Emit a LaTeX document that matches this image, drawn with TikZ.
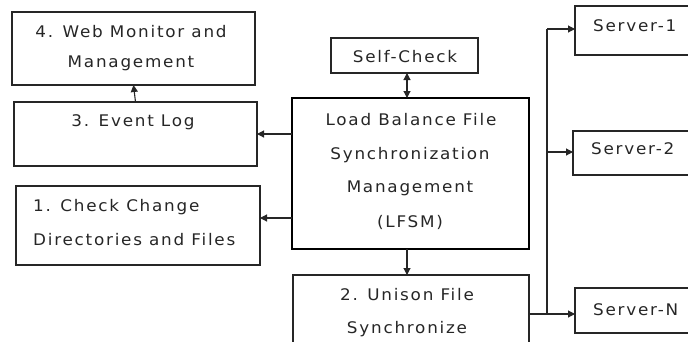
\documentclass[tikz,border=0pt]{standalone}
\usepackage{fontspec}
\setmainfont{DejaVu Sans}[FakeStretch=1.05,LetterSpace=11]
\usetikzlibrary{arrows.meta}
\begin{document}
\begin{tikzpicture}[x=1pt,y=-1pt,
  box/.style={draw=black!85,line width=1.1pt},
  mainbox/.style={draw=black,line width=2.9pt},
  lbl/.style={font=\fontsize{16}{16}\selectfont,text=black!85,inner sep=0pt},
  tip/.tip={Triangle[length=7pt,width=7pt]},
  conn/.style={draw=black!85,line width=1.1pt,-tip},
  wire/.style={draw=black!85,line width=1.1pt}]
\useasboundingbox (0,0) rectangle (688,341);
\clip (0,0) rectangle (688,341);
% boxes
\draw[box] (12,12) rectangle (255,85);
\coordinate (web) at (133.5,85);
\draw[box] (14,102) rectangle (257,166);
\coordinate (evtop) at (135.5,102);
\coordinate (evright) at (257,134);
\draw[box] (16,186) rectangle (260,265);
\coordinate (chkright) at (260,218);
\draw[mainbox] (292,98) rectangle (529,249);
\coordinate (lfsmtop) at (407,98);
\coordinate (lfsmbot) at (407,249);
\coordinate (lfsmleftA) at (292,134);
\coordinate (lfsmleftB) at (292,218);
\draw[box] (331,38) rectangle (478,73);
\coordinate (selfbot) at (407,73);
\draw[box] (293,275) rectangle (529,360);
\coordinate (unitop) at (407,275);
\coordinate (uniright) at (529,314);
\draw[box] (575,6) rectangle (700,55);
\draw[box] (573,131) rectangle (700,175);
\draw[box] (575,288) rectangle (700,333);
\coordinate (s1) at (575,29);
\coordinate (s2) at (573,152);
\coordinate (sN) at (575,314);
\coordinate (trunkbot) at (547,314);
\coordinate (trunktop) at (547,29);
\coordinate (trunkmid) at (547,152);
% texts
\node[lbl] (t4a) at (131,32) {4. Web Monitor and};
\node[lbl] (t4b) at (131,63) {Management};
\node[lbl] (t3) at (133,122) {3. Event Log};
\node[lbl,anchor=west] (t1a) at (33,207) {1. Check Change};
\node[lbl,anchor=west] (t1b) at (33,240) {Directories and Files};
\node[lbl] (tl1) at (411,120) {Load Balance File};
\node[lbl] (tl2) at (410,155) {Synchronization};
\node[lbl] (tl3) at (410,188) {Management};
\node[lbl] (tl4) at (410,222) {(LFSM)};
\node[lbl] (tsc) at (405,57) {Self-Check};
\node[lbl] (tu1) at (407,295) {2. Unison File};
\node[lbl] (tu2) at (407,329) {Synchronize};
\node[lbl,anchor=west] (ts1) at (593,26) {Server-1};
\node[lbl,anchor=west] (ts2) at (591,149) {Server-2};
\node[lbl,anchor=west] (tsN) at (593,310) {Server-N};
% connectors
\draw[conn] (evtop) -- (web);
\draw[conn] (lfsmleftA) -- (evright);
\draw[conn] (lfsmleftB) -- (chkright);
\draw[conn,tip-tip] (selfbot) -- (lfsmtop);
\draw[conn] (lfsmbot) -- (unitop);
\draw[wire] (uniright) -- (trunkbot) -- (trunktop);
\draw[conn] (trunktop) -- (s1);
\draw[conn] (trunkmid) -- (s2);
\draw[conn] (trunkbot) -- (sN);
\end{tikzpicture}
\end{document}
